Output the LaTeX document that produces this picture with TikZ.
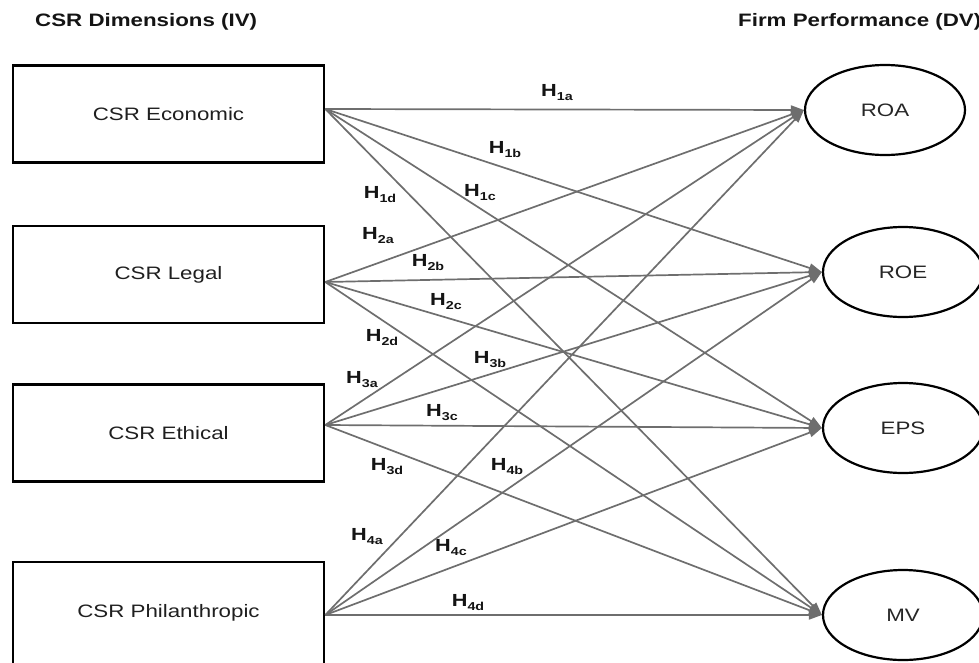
\documentclass[tikz,border=0pt]{standalone}
\usepackage{fontspec}
\setmainfont{Liberation Sans}[FakeStretch=1.24]
\usetikzlibrary{shapes.geometric,arrows.meta}
\newcommand\Hsub[1]{H\raisebox{-4pt}{\fontsize{11.5}{12}\selectfont #1}}
\definecolor{linegray}{HTML}{6E6E6E}
\begin{document}
\begin{tikzpicture}[x=1pt,y=-1pt,
  box/.style={draw=black,line width=2.6pt,minimum width=311pt,minimum height=97pt,inner sep=0pt,font=\fontsize{18}{20}\selectfont,text=black!88},
  dv/.style={ellipse,draw=black,line width=2.2pt,minimum width=160pt,minimum height=90pt,inner sep=0pt,font=\fontsize{18}{20}\selectfont,text=black!85},
  hyp/.style={draw=linegray,line width=1.7pt,-{Triangle[length=13pt,width=9pt]}},
  hl/.style={font=\fontsize{17.5}{19}\selectfont\bfseries,inner sep=0pt,text=black!92},
  ttl/.style={font=\fontsize{18}{20}\selectfont\bfseries,anchor=base west,inner sep=0pt,text=black!92}
]
\useasboundingbox (0,0) rectangle (979,662);
\clip (0,0) rectangle (979,662);

\node[ttl] (tiv) at (35,26) {CSR Dimensions (IV)};
\node[ttl] (tdv) at (738,26) {Firm Performance (DV)};

\node[box] (eco) at (168.5,114) {CSR Economic};
\node[box] (leg) at (168.5,274.5) {CSR Legal};
\node[box] (eth) at (168.5,433) {CSR Ethical};
\node[box,minimum height=102pt] (phi) at (168.5,613) {CSR Philanthropic};

\node[dv] (roa) at (885,110) {ROA};
\node[dv] (roe) at (903,272) {ROE};
\node[dv] (eps) at (903,428) {EPS};
\node[dv] (mv) at (903,615) {MV};

\coordinate (s1) at ([yshift=5pt]eco.east);
\coordinate (s2) at ([yshift=-7.5pt]leg.east);
\coordinate (s3) at ([yshift=8pt]eth.east);
\coordinate (s4) at ([yshift=-2pt]phi.east);

\foreach \s in {s1,s2,s3,s4}{
  \foreach \t in {roa,roe,eps,mv}{
    \draw[hyp] (\s) -- (\t.west);
  }
}

\node[hl] (h1a) at (557,93) {\Hsub{1a}};
\node[hl] (h1b) at (505,150) {\Hsub{1b}};
\node[hl] (h1c) at (480,193) {\Hsub{1c}};
\node[hl] (h1d) at (380,195) {\Hsub{1d}};
\node[hl] (h2a) at (378,236) {\Hsub{2a}};
\node[hl] (h2b) at (428,263) {\Hsub{2b}};
\node[hl] (h2c) at (446,302) {\Hsub{2c}};
\node[hl] (h2d) at (382,338) {\Hsub{2d}};
\node[hl] (h3a) at (362,380) {\Hsub{3a}};
\node[hl] (h3b) at (490,360) {\Hsub{3b}};
\node[hl] (h3c) at (442,413) {\Hsub{3c}};
\node[hl] (h3d) at (387,467) {\Hsub{3d}};
\node[hl] (h4a) at (367,537) {\Hsub{4a}};
\node[hl] (h4b) at (507,467) {\Hsub{4b}};
\node[hl] (h4c) at (451,548) {\Hsub{4c}};
\node[hl] (h4d) at (468,603) {\Hsub{4d}};
\end{tikzpicture}
\end{document}
